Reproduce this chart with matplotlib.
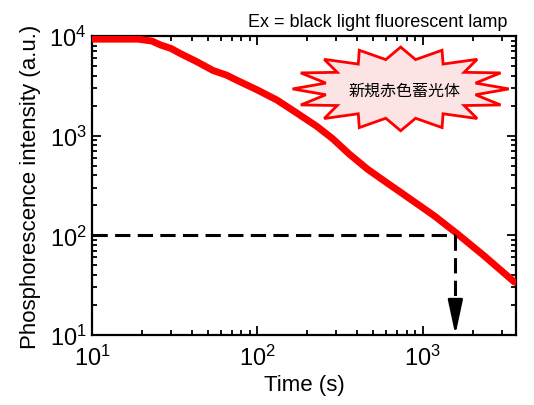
import numpy as np
import matplotlib.pyplot as plt
from matplotlib.patches import Polygon

plt.rcParams['font.family'] = ['Liberation Sans', 'DejaVu Sans']
plt.rcParams['mathtext.fontset'] = 'custom'
plt.rcParams['mathtext.rm'] = 'Liberation Sans'
plt.rcParams['mathtext.it'] = 'Liberation Sans:italic'

# decay curve
time_s = [10, 19, 23, 26, 30, 34, 43, 54, 65, 75, 100, 131, 174, 230, 285, 360,
          462, 600, 736, 950, 1170, 1620, 2350, 3570]
intensity = [9300, 9300, 8900, 8120, 7500, 6700, 5520, 4500, 4050, 3600, 2870,
             2280, 1675, 1230, 930, 650, 462, 340, 269, 200, 157, 103, 62, 34]

# marker for the time at which intensity falls to 100
level = 100
t_level = 1570

x_range = (10, 3650)
y_range = (10, 10000)

fig = plt.figure(figsize=(5.34, 4.06), dpi=100)
ax = fig.add_axes([92 / 534, 70 / 406, 424 / 534, 299 / 406])

ax.plot(time_s, intensity, color='#ff0000', lw=5, solid_capstyle='round',
        solid_joinstyle='round', zorder=3)

# dashed guide lines + arrow
ax.plot([x_range[0], t_level], [level, level], color='black', lw=2.2,
        dashes=(5, 2.4), zorder=4)
ax.plot([t_level, t_level], [level, 17], color='black', lw=2.2,
        dashes=(5, 2.4), zorder=4)
ax.annotate('', xy=(t_level, y_range[0]), xytext=(t_level, 18),
            arrowprops=dict(arrowstyle='-|>,head_length=2.1,head_width=0.45',
                            color='black', lw=2, shrinkA=0, shrinkB=0),
            zorder=5)

ax.set_xscale('log')
ax.set_yscale('log')
ax.set_xlim(*x_range)
ax.set_ylim(*y_range)

for s in ax.spines.values():
    s.set_linewidth(1.6)
ax.tick_params(which='both', direction='in', top=True, right=True, width=1.3)
ax.tick_params(which='major', length=6.5, labelsize=17)
ax.tick_params(which='minor', length=3.5)
ax.tick_params(axis='x', pad=7)
ax.tick_params(axis='y', pad=4)

ax.set_xlabel('Time (s)', fontsize=16, labelpad=3)
ax.set_ylabel('Phosphorescence intensity (a.u.)', fontsize=16, labelpad=6)

fig.text(507 / 534, 0.934, 'Ex = black light fluorescent lamp', ha='right',
         va='baseline', fontsize=13)

# starburst label
n_spikes = 16
cx, cy = 0.728, 0.823
ang = np.pi / 2 + np.arange(2 * n_spikes) * np.pi / n_spikes
rx = np.where(np.arange(2 * n_spikes) % 2 == 0, 0.255, 0.18)
ry = np.where(np.arange(2 * n_spikes) % 2 == 0, 0.14, 0.1)
star = Polygon(np.column_stack([cx + rx * np.cos(ang), cy + ry * np.sin(ang)]),
               closed=True, transform=ax.transAxes, facecolor='#fde4e4',
               edgecolor='#ff0000', lw=2, zorder=2)
ax.add_patch(star)
ax.text(0.736, 0.819, '新規赤色蓄光体', transform=ax.transAxes, ha='center',
        va='center', fontsize=11.5, zorder=6,
        family=['Noto Sans CJK JP', 'DejaVu Sans'])

fig.savefig('out.png', dpi=100)
